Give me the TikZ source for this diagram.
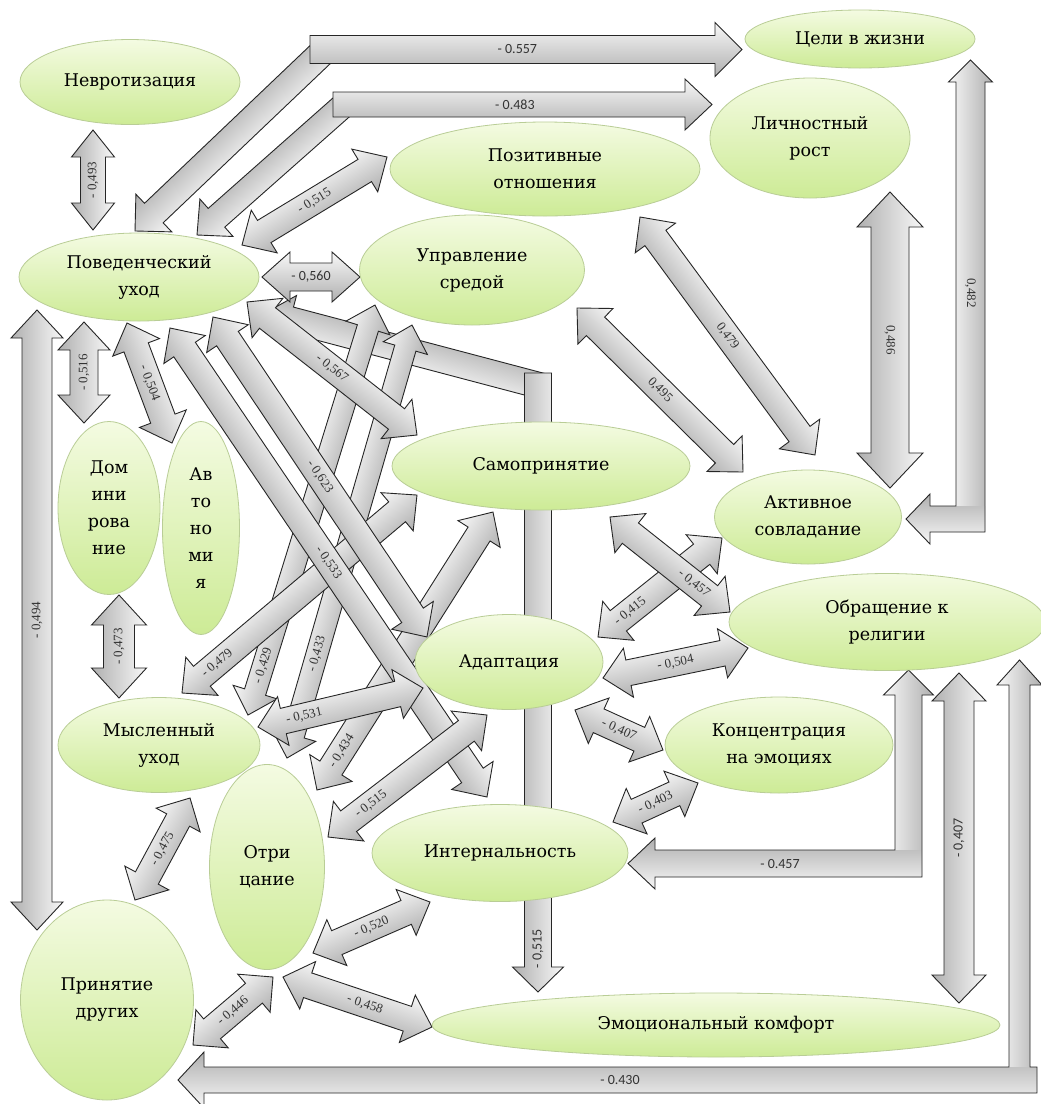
\documentclass[tikz,border=0pt]{standalone}
\usepackage{fontspec}
\setmainfont{DejaVu Serif}
\newfontfamily\serf{DejaVu Serif}
\newfontfamily\labf{Liberation Serif}
\newfontfamily\sansf{Carlito}
\usetikzlibrary{calc,shapes.geometric}

\definecolor{ellTop}{RGB}{244,251,226}
\definecolor{ellBot}{RGB}{205,235,150}
\definecolor{ellLine}{RGB}{185,205,150}
\definecolor{arrLight}{RGB}{248,248,248}
\definecolor{arrDark}{RGB}{175,175,175}

\tikzset{
  ell/.style={ellipse, draw=ellLine, line width=0.8pt, top color=ellTop, bottom color=ellBot,
    inner sep=0pt, align=center, font=\serf\fontsize{17.5}{27}\selectfont},
  barrow/.style={draw=black!85, line width=0.9pt, top color=arrLight, bottom color=arrDark},
  outlineonly/.style={draw=black!85, line width=0.9pt, line join=miter},
  lab/.style={font=\labf\fontsize{13}{13}\selectfont, text=black!80, inner sep=0pt},
  labsans/.style={font=\sansf\fontsize{14}{14}\selectfont, text=black!80, inner sep=0pt},
}

\newdimen\BAxa \newdimen\BAya \newdimen\BAxb \newdimen\BAyb
\pgfkeys{/barrow/.cd,
  sw/.store in=\BAsw, hw/.store in=\BAhw, hl/.store in=\BAhl,
  pos/.store in=\BApos, kind/.store in=\BAkind, flip/.store in=\BAflip,
  lstyle/.store in=\BAlstyle, astyle/.store in=\BAastyle}
\newcommand\BArrow[4][]{%
  \begingroup
  \pgfkeys{/barrow/.cd, sw=26, hw=50, hl=26, pos=0.5, kind=2, flip=0, lstyle=lab, astyle=barrow, #1}%
  \pgfextractx{\BAxa}{\pgfpointanchor{#2}{center}}%
  \pgfextracty{\BAya}{\pgfpointanchor{#2}{center}}%
  \pgfextractx{\BAxb}{\pgfpointanchor{#3}{center}}%
  \pgfextracty{\BAyb}{\pgfpointanchor{#3}{center}}%
  \pgfmathsetmacro\BAang{atan2(\BAyb-\BAya,\BAxb-\BAxa)}%
  \pgfmathsetmacro\BAlen{veclen(\BAxb-\BAxa,\BAyb-\BAya)}%
  \pgfmathsetmacro\BAt{\BAang>90.5 ? \BAang-180 : (\BAang<-89.5 ? \BAang+180 : \BAang)}%
  \pgfmathsetmacro\BAt{\BAt+180*\BAflip-\BAang}%
  \pgfmathsetmacro\BAs{\BAsw/2}\pgfmathsetmacro\BAh{\BAhw/2}%
  \pgfmathsetmacro\BAe{\BAlen-\BAhl}%
  \pgfmathsetmacro\BAlp{\BApos*\BAlen}%
  \begin{scope}[transform canvas={shift={(\the\BAxa,\the\BAya)}, rotate=\BAang}, x=1pt, y=1pt]
    \ifnum\BAkind=2
      \path[\BAastyle] (0,0) -- (\BAhl,\BAh) -- (\BAhl,\BAs) -- (\BAe,\BAs) -- (\BAe,\BAh) -- (\BAlen,0)
        -- (\BAe,-\BAh) -- (\BAe,-\BAs) -- (\BAhl,-\BAs) -- (\BAhl,-\BAh) -- cycle;
    \else
      \path[\BAastyle] (0,\BAs) -- (\BAe,\BAs) -- (\BAe,\BAh) -- (\BAlen,0) -- (\BAe,-\BAh) -- (\BAe,-\BAs) -- (0,-\BAs) -- cycle;
    \fi
    \if\relax\detokenize{#4}\relax\else
      \node[\BAlstyle, rotate=\BAt] at (\BAlp,0) {#4};
    \fi
  \end{scope}
  \endgroup
}
\tikzset{fillonly/.style={top color=arrLight, bottom color=arrDark, draw=none}}

\begin{document}
\begin{tikzpicture}[x=1pt,y=-1pt]
\useasboundingbox (0,0) rectangle (1041,1104);
\fill[white] (0,0) rectangle (1041,1104);

% ---------- end points of the connectors ----------
\coordinate (d557a) at (325,50);   \coordinate (d557b) at (135,231);
\coordinate (h557a) at (310,49.5); \coordinate (h557b) at (742,49.5);
\coordinate (d483a) at (345,104);  \coordinate (d483b) at (197,235);
\coordinate (h483a) at (333,104.5);\coordinate (h483b) at (712,104.5);
\coordinate (d515a) at (545,387);  \coordinate (d515b) at (265,313);
\coordinate (v515a) at (538,373);  \coordinate (v515b) at (538,992);
\coordinate (v482a) at (970.5,532);\coordinate (v482b) at (970.5,60);
\coordinate (h482a) at (985,519);  \coordinate (h482b) at (906,519);
\coordinate (v457a) at (908.5,877);\coordinate (v457b) at (908.5,670);
\coordinate (h457a) at (922,863.5);\coordinate (h457b) at (628,863.5);
\coordinate (v430a) at (1019.5,1093);\coordinate (v430b) at (1019.5,660);
\coordinate (h430a) at (1037,1080);\coordinate (h430b) at (178,1080);
\coordinate (n493a) at (93,130);   \coordinate (n493b) at (93,230);
\coordinate (n515a) at (242,245);  \coordinate (n515b) at (387,157);
\coordinate (n560a) at (262,277);  \coordinate (n560b) at (360,277);
\coordinate (n516a) at (84,322);   \coordinate (n516b) at (84,423);
\coordinate (n504a) at (127,323);  \coordinate (n504b) at (172,443);
\coordinate (n494a) at (37,310);   \coordinate (n494b) at (37,930);
\coordinate (n473a) at (119,595);  \coordinate (n473b) at (119,698);
\coordinate (n475a) at (135,900);  \coordinate (n475b) at (190,798);
\coordinate (n446a) at (193,1045); \coordinate (n446b) at (273,977);
\coordinate (n567a) at (247,302);  \coordinate (n567b) at (417,435);
\coordinate (n623a) at (213,317);  \coordinate (n623b) at (427,637);
\coordinate (n533a) at (170,328);  \coordinate (n533b) at (487,797);
\coordinate (n479a) at (182,693);  \coordinate (n479b) at (417,495);
\coordinate (n429a) at (248,715);  \coordinate (n429b) at (375,305);
\coordinate (n433a) at (287,758);  \coordinate (n433b) at (412,325);
\coordinate (n434a) at (317,790);  \coordinate (n434b) at (493,512);
\coordinate (n531a) at (258,727);  \coordinate (n531b) at (423,688);
\coordinate (m515a) at (328,837);  \coordinate (m515b) at (487,715);
\coordinate (n520a) at (313,953);  \coordinate (n520b) at (430,902);
\coordinate (n458a) at (283,977);  \coordinate (n458b) at (432,1027);
\coordinate (n495a) at (577,308);  \coordinate (n495b) at (743,472);
\coordinate (r479a) at (640,217);  \coordinate (r479b) at (815,455);
\coordinate (n486a) at (890,192);  \coordinate (n486b) at (890,488);
\coordinate (n415a) at (598,637);  \coordinate (n415b) at (722,538);
\coordinate (s457a) at (610,517);  \coordinate (s457b) at (730,612);
\coordinate (r504a) at (603,678);  \coordinate (r504b) at (748,648);
\coordinate (s407a) at (575,710);  \coordinate (s407b) at (663,750);
\coordinate (n403a) at (613,822);  \coordinate (n403b) at (698,783);
\coordinate (v407a) at (959,673);  \coordinate (v407b) at (959,1003);

% ---------- bent connectors ----------
\BArrow[kind=1, sw=27, hw=52, hl=26]{d557a}{d557b}{}
\BArrow[kind=1, sw=28, hw=54, hl=27, pos=0.48, lstyle=labsans]{h557a}{h557b}{- 0.557}
\BArrow[kind=1, sw=25, hw=50, hl=26]{d483a}{d483b}{}
\BArrow[kind=1, sw=25, hw=51, hl=27, pos=0.48, lstyle=labsans]{h483a}{h483b}{- 0.483}

% 0,482 : L-shaped, filled in two parts, one outline
\BArrow[kind=1, sw=29, hw=44, hl=22, astyle=fillonly]{v482a}{v482b}{}
\BArrow[kind=1, sw=26, hw=50, hl=24, astyle=fillonly]{h482a}{h482b}{}
\path[outlineonly] (970.5,60) -- (992.5,82) -- (985,82) -- (985,532) -- (930,532) -- (930,544) -- (906,519)
  -- (930,494) -- (930,506) -- (956,506) -- (956,82) -- (948.5,82) -- cycle;
\node[lab, rotate=-90] (l482) at (970.5,293) {0,482};

% - 0.457 : L-shaped
\BArrow[kind=1, sw=27, hw=50, hl=25, astyle=fillonly]{v457a}{v457b}{}
\BArrow[kind=1, sw=27, hw=51, hl=27, astyle=fillonly]{h457a}{h457b}{}
\path[outlineonly] (908.5,670) -- (933.5,695) -- (922,695) -- (922,877) -- (655,877) -- (655,889) -- (628,863.5)
  -- (655,838) -- (655,850) -- (895,850) -- (895,695) -- (883.5,695) -- cycle;
\node[labsans] (l457) at (780,863.5) {- 0.457};

% - 0.430 : L-shaped
\BArrow[kind=1, sw=21, hw=45, hl=25, astyle=fillonly]{v430a}{v430b}{}
\BArrow[kind=1, sw=26, hw=56, hl=26, astyle=fillonly]{h430a}{h430b}{}
\path[outlineonly] (1019.5,660) -- (1042,685) -- (1030,685) -- (1030,1067) -- (1037,1067) -- (1037,1093)
  -- (204,1093) -- (204,1108) -- (178,1080) -- (204,1052) -- (204,1067) -- (1009,1067) -- (1009,685)
  -- (997,685) -- cycle;
\node[labsans] (l430) at (620,1080) {- 0.430};

\BArrow[sw=38, hw=66, hl=35, flip=1]{n486a}{n486b}{0,486}
\BArrow[sw=30, hw=54, hl=28, lstyle=labsans]{v407a}{v407b}{- 0,407}
\BArrow[sw=30, hw=52, hl=28]{n494a}{n494b}{- 0,494}

\BArrow[kind=1, sw=26, hw=50, hl=26]{d515a}{d515b}{}
\BArrow[kind=1, sw=27, hw=51, hl=25, pos=0.93, lstyle=labsans]{v515a}{v515b}{- 0,515}

% ---------- straight connectors ----------
\BArrow[sw=25, hw=43, hl=27]{n493a}{n493b}{- 0,493}
\BArrow{n515a}{n515b}{- 0,515}
\BArrow[sw=28, hw=50, hl=28, lstyle=labsans]{n560a}{n560b}{- 0,560}
\BArrow[sw=28, hw=52, hl=28]{n516a}{n516b}{- 0,516}
\BArrow{n504a}{n504b}{- 0,504}
\BArrow[sw=31, hw=55, hl=30]{n473a}{n473b}{- 0,473}
\BArrow[hl=25]{n475a}{n475b}{- 0,475}
\BArrow[hl=25]{n446a}{n446b}{- 0,446}

\BArrow[sw=22, hw=46, hl=24, pos=0.12]{n429a}{n429b}{- 0,429}
\BArrow[sw=22, hw=46, hl=24, pos=0.24]{n433a}{n433b}{- 0,433}
\BArrow[pos=0.15]{n479a}{n479b}{- 0,479}
\BArrow[pos=0.14]{n434a}{n434b}{- 0,434}
\BArrow{n533a}{n533b}{- 0,533}
\BArrow{n623a}{n623b}{- 0,623}
\BArrow{n567a}{n567b}{- 0,567}
\BArrow[pos=0.28]{n531a}{n531b}{- 0,531}
\BArrow[pos=0.27]{m515a}{m515b}{- 0,515}
\BArrow{n520a}{n520b}{- 0,520}
\BArrow[pos=0.55]{n458a}{n458b}{- 0,458}

\BArrow{n495a}{n495b}{0,495}
\BArrow{r479a}{r479b}{0,479}
\BArrow[pos=0.26]{n415a}{n415b}{- 0,415}
\BArrow[pos=0.7]{s457a}{s457b}{- 0,457}
\BArrow{r504a}{r504b}{- 0,504}
\BArrow{s407a}{s407b}{- 0,407}
\BArrow{n403a}{n403b}{- 0,403}

% ---------- ellipses ----------
\node[ell, minimum width=220pt, minimum height=85pt]  (nevr) at (130,82)   {Невротизация};
\node[ell, minimum width=240pt, minimum height=88pt]  (pov)  at (139,277)  {Поведенческий\\уход};
\node[ell, minimum width=230pt, minimum height=58pt]  (celi) at (860,39)   {Цели в жизни};
\node[ell, minimum width=200pt, minimum height=120pt] (lich) at (810,138)  {Личностный\\рост};
\node[ell, minimum width=310pt, minimum height=94pt]  (poz)  at (545,169)  {Позитивные\\отношения};
\node[ell, minimum width=225pt, minimum height=110pt] (upr)  at (472,270)  {Управление\\средой};
\node[ell, minimum width=298pt, minimum height=88pt]  (samo) at (541,466)  {Самопринятие};
\node[ell, minimum width=187pt, minimum height=94pt]  (akt)  at (808,517)  {Активное\\совладание};
\node[ell, minimum width=316pt, minimum height=97pt]  (obr)  at (887,622)  {Обращение к\\религии};
\node[ell, minimum width=102pt, minimum height=173pt] (dom)  at (109,508)  {Дом\\ини\\рова\\ние};
\node[ell, minimum width=77pt,  minimum height=213pt] (avt)  at (201,528)  {Ав\\то\\но\\ми\\я};
\node[ell, minimum width=188pt, minimum height=95pt]  (adap) at (509,662)  {Адаптация};
\node[ell, minimum width=202pt, minimum height=95pt]  (mysl) at (159,745)  {Мысленный\\уход};
\node[ell, minimum width=228pt, minimum height=96pt]  (konc) at (779,745)  {Концентрация\\на эмоциях};
\node[ell, minimum width=115pt, minimum height=205pt] (otr)  at (267,867)  {Отри\\цание};
\node[ell, minimum width=256pt, minimum height=97pt]  (int)  at (500,853)  {Интернальность};
\node[ell, minimum width=173pt, minimum height=200pt] (prin) at (107,1000) {Принятие\\других};
\node[ell, minimum width=568pt, minimum height=64pt]  (emo)  at (716,1025) {Эмоциональный комфорт};
\end{tikzpicture}
\end{document}
